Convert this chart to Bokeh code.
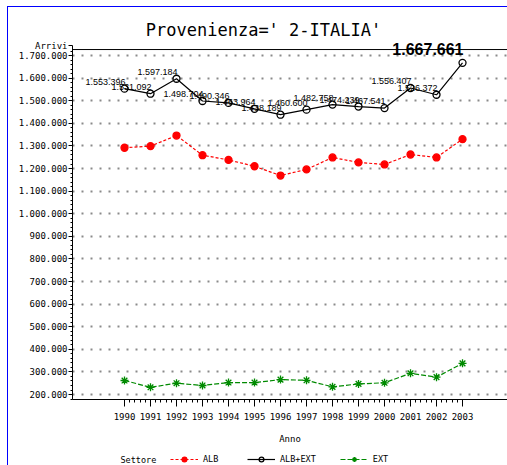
from bokeh.plotting import figure
from bokeh.layouts import column
from bokeh.models import (ColumnDataSource, Range1d, FixedTicker, SingleIntervalTicker,
                          CustomJSTickFormatter, Label, Legend, Span)
from bokeh.core.properties import value
from bokeh.embed import file_html
from bokeh.resources import INLINE

# ---- data ----
years = [1990, 1991, 1992, 1993, 1994, 1995, 1996, 1997, 1998, 1999, 2000, 2001, 2002, 2003]
alb_ext = [1553396, 1531092, 1597184, 1498704, 1490346, 1463964, 1438189,
           1460600, 1482758, 1474239, 1467541, 1556407, 1526372, 1667661]
alb = [1292000, 1299000, 1346000, 1259000, 1238000, 1210000, 1169000,
       1196000, 1249000, 1227000, 1218000, 1262000, 1249000, 1330000]
ext = [262000, 232000, 250000, 240000, 253000, 253000, 266000,
       263000, 234000, 247000, 252000, 294000, 277000, 338000]
y_ticks = [200000, 300000, 400000, 500000, 600000, 700000, 800000, 900000, 1000000,
           1100000, 1200000, 1300000, 1400000, 1500000, 1600000, 1700000]
title_text = "Provenienza=' 2-ITALIA'"
x_label = "Anno"
y_label = "Arrivi"
legend_title = "Settore"
series_names = ["ALB", "ALB+EXT", "EXT"]


def fmt(v):
    return f"{v:,}".replace(",", ".")


MONO = "DejaVu Sans Mono"
Y_LO, Y_TOP_AXIS, Y_HI = 178000, 1726500, 1912500
Y_LABEL_POS = 1744000

# series styles
styles = [
    dict(color="red", dash="3 2", marker="circle", fill="red"),
    dict(color="black", dash="solid", marker="circle", fill=None),
    dict(color="#008a00", dash="5 2", marker="asterisk", fill=None),
]

p = figure(width=499, height=444, output_backend="svg", toolbar_location=None,
           x_range=Range1d(1988.0, 2004.73), y_range=Range1d(Y_LO, Y_HI),
           min_border_left=64, min_border_right=0, min_border_top=0, min_border_bottom=52,
           background_fill_color="white", border_fill_color="white")
p.title.visible = False
p.outline_line_color = None

# grid
p.xgrid.grid_line_color = None
p.ygrid.ticker = SingleIntervalTicker(interval=100000)
p.ygrid.bounds = (Y_LO, Y_TOP_AXIS)
p.ygrid.grid_line_color = "#8a8a8a"
p.ygrid.grid_line_width = 2
p.ygrid.grid_line_dash = "2 7"

# y axis
ya = p.yaxis[0]
y_minor = [v for v in range(180000, Y_TOP_AXIS, 20000) if v % 100000 != 0]
ya.ticker = FixedTicker(ticks=y_ticks + [Y_LABEL_POS], minor_ticks=y_minor)
ya.formatter = CustomJSTickFormatter(
    code='return Math.round(tick).toString().replace(/\\B(?=(\\d{3})+(?!\\d))/g, ".");')
ya.major_label_overrides = {Y_LABEL_POS: y_label}
ya.bounds = (Y_LO, Y_LABEL_POS)
ya.major_label_text_font = MONO
ya.major_label_text_font_size = "9px"
ya.major_label_text_color = "black"
ya.major_label_standoff = 1
ya.major_tick_in = 0
ya.major_tick_out = 4
ya.minor_tick_in = 0
ya.minor_tick_out = 2
ya.axis_line_color = "black"

# x axis
x_minor = [y + k / 5 for y in years[:-1] for k in range(1, 5)]
xa = p.xaxis[0]
xa.ticker = FixedTicker(ticks=years, minor_ticks=x_minor)
xa.major_label_text_font = MONO
xa.major_label_text_font_size = "9px"
xa.major_label_text_color = "black"
xa.major_label_standoff = 6
xa.major_tick_in = 0
xa.major_tick_out = 7
xa.minor_tick_in = 0
xa.minor_tick_out = 3
xa.axis_label = x_label
xa.axis_label_text_font = MONO
xa.axis_label_text_font_size = "9px"
xa.axis_label_text_font_style = "normal"
xa.axis_label_text_color = "black"
xa.axis_label_standoff = 11

# top frame line
p.add_layout(Span(location=Y_TOP_AXIS, dimension="width", line_color="black", line_width=1))

src = ColumnDataSource(dict(x=years, alb=alb, tot=alb_ext, ext=ext))
for col, st in zip(["alb", "tot", "ext"], styles):
    p.line("x", col, source=src, line_color=st["color"], line_width=1.2, line_dash=st["dash"])
    p.scatter("x", col, source=src, marker=st["marker"], size=7 if st["marker"] == "circle" else 8,
              fill_color=st["fill"], line_color=st["color"], line_width=1.3)

# point labels (all but last)
lab_src = ColumnDataSource(dict(x=years[:-1], y=alb_ext[:-1], t=[fmt(v) for v in alb_ext[:-1]]))
p.text("x", "y", text="t", source=lab_src, text_align="right", text_baseline="bottom",
       x_offset=1, y_offset=-4, text_font=value("Liberation Sans"), text_font_size="9px",
       text_color="black")

# last value, big bold
p.add_layout(Label(x=years[-1], y=alb_ext[-1], text=fmt(alb_ext[-1]), text_align="right",
                   text_baseline="alphabetic", x_offset=1, y_offset=14,
                   text_font="Liberation Sans", text_font_size="16px", text_font_style="bold",
                   text_color="black"))

# title
p.add_layout(Label(x=191, x_units="screen", y=370, y_units="screen", text=title_text,
                   text_align="center", text_baseline="alphabetic", text_font=MONO,
                   text_font_size="17px", text_color="black"))

# ---- legend strip (frame aligned with the main plot's frame) ----
lf = figure(width=499, height=14, output_backend="svg", toolbar_location=None,
            x_range=Range1d(0, 1), y_range=Range1d(0, 1),
            x_axis_location=None, y_axis_location=None,
            min_border_left=0, min_border_right=0, min_border_top=0, min_border_bottom=0,
            background_fill_color="white", border_fill_color="white")
lf.title.visible = False
lf.outline_line_color = None
lf.grid.visible = False
offscreen = ColumnDataSource(dict(x=[-5, -4], y=[-5, -4]))
items = []
for name, st in zip(series_names, styles):
    rl = lf.line("x", "y", source=offscreen, line_color=st["color"], line_width=1.2, line_dash=st["dash"])
    rs = lf.scatter("x", "y", source=offscreen, marker=st["marker"],
                    size=7 if st["marker"] == "circle" else 8,
                    fill_color=st["fill"], line_color=st["color"], line_width=1.3)
    items.append((name, [rl, rs]))
legend = Legend(items=items, orientation="horizontal", location=(98, 0),
                label_text_font=MONO, label_text_font_size="8.5px", label_text_color="black",
                glyph_width=28, glyph_height=12, label_standoff=5, spacing=24,
                padding=0, margin=0, border_line_color=None, background_fill_alpha=0)
lf.add_layout(legend, "center")
lf.add_layout(Label(x=48, x_units="screen", y=6, y_units="screen", text=legend_title,
                    text_align="left", text_baseline="middle", text_font=MONO,
                    text_font_size="8.5px", text_color="black"))

layout = column(p, lf, spacing=0)
layout.styles = {"margin-left": "7px", "margin-top": "6px",
                 "border-left": "1px solid blue", "border-top": "1px solid blue"}

open("out.html", "w").write(file_html(layout, INLINE))
